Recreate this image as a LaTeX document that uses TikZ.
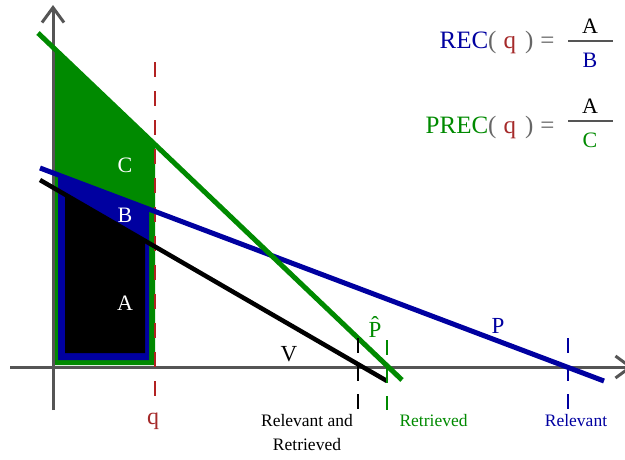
\documentclass[tikz,border=0pt]{standalone}
\usepackage{fontspec}
\setmainfont{Liberation Serif}
\usepackage{xcolor}
\usetikzlibrary{arrows.meta}
\definecolor{axisgray}{HTML}{555555}
\definecolor{parengray}{HTML}{666666}
\definecolor{relblue}{HTML}{0000A0}
\definecolor{retgreen}{HTML}{008A00}
\definecolor{cutred}{HTML}{B22222}
\definecolor{qred}{HTML}{A52A2A}

\begin{document}
\begin{tikzpicture}[x=1pt, y=-1pt,
  axis/.style={axisgray, line width=3pt, -{Straight Barb[length=15pt, width=22pt]}},
  curve/.style={line width=5pt},
  marker/.style={line width=2.5pt, dash pattern=on 15pt off 13pt},
  region label/.style={anchor=base, font=\fontsize{22}{26}\selectfont\color{white}},
  curve label/.style={anchor=base, font=\fontsize{23}{27}\selectfont},
  axis label/.style={anchor=base, font=\fontsize{17.5}{24}\selectfont},
  ratio lhs/.style={anchor=base east, font=\fontsize{25}{29}\selectfont},
  ratio term/.style={anchor=base, font=\fontsize{22}{26}\selectfont}]

\useasboundingbox (0,0) rectangle (625,459);

% Areas under the curves up to the cut-off q
\fill[retgreen] (55,51) -- (155,145) -- (155,365) -- (55,365) -- cycle;
\fill[relblue] (58,175) -- (149,209) -- (149,360) -- (58,360) -- cycle;
\fill[black] (65,195) -- (145,241) -- (145,353) -- (65,353) -- cycle;

% Axes
\draw[axis] (10,367) -- (633,367);
\draw[axis] (53,410) -- (53,5);

% Cut-off q
\draw[cutred, line width=2pt, dash pattern=on 15pt off 14pt] (155,62) -- (155,397);

% Curves
\draw[curve, relblue] (40,168) -- (604,381);
\draw[curve, retgreen] (38,33) -- (402,380);
\draw[curve, black, line width=4.5pt] (40,180) -- (387,381);

% Markers on the axis
\draw[marker, black] (358,338) -- (358,410);
\draw[marker, retgreen] (387,340) -- (387,410);
\draw[marker, relblue] (568,338) -- (568,410);

% Region labels
\node[region label] (areaC) at (125,172) {C};
\node[region label] (areaB) at (125,222) {B};
\node[region label] (areaA) at (125,310) {A};

% Curve labels
\node[curve label, black] (curveV) at (289,361) {V};
\node[curve label, retgreen] (curvePhat) at (375,337) {\^{P}};
\node[curve label, relblue] (curveP) at (498,333) {P};
\node[curve label, qred, font=\fontsize{24}{28}\selectfont] (cutq) at (153,424) {q};

% Axis labels
\node[axis label, black] (relretTop) at (307,426) {Relevant and};
\node[axis label, black] (relretBot) at (307,450) {Retrieved};
\node[axis label, retgreen, anchor=base west] (retLabel) at (396,426) {Retrieved};
\node[axis label, relblue] (relLabel) at (576,426) {Relevant};

% Recall
\node[ratio lhs] (recLhs) at (558,48) {{\color{relblue}REC}{\color{parengray}(}\hspace{7pt}{\color{qred}q}\hspace{9pt}{\color{parengray})}\hspace{7pt}{\color{parengray}=}};
\node[ratio term, black] (recNum) at (590,33) {A};
\node[ratio term, relblue] (recDen) at (590,67) {B};
\draw[axisgray, line width=2.5pt] (568,41) -- (613,41);

% Precision
\node[ratio lhs] (precLhs) at (558,133) {{\color{retgreen}PREC}{\color{parengray}(}\hspace{7pt}{\color{qred}q}\hspace{9pt}{\color{parengray})}\hspace{7pt}{\color{parengray}=}};
\node[ratio term, black] (precNum) at (590,113) {A};
\node[ratio term, retgreen] (precDen) at (590,147) {C};
\draw[axisgray, line width=2.5pt] (568,121) -- (613,121);

\end{tikzpicture}
\end{document}
